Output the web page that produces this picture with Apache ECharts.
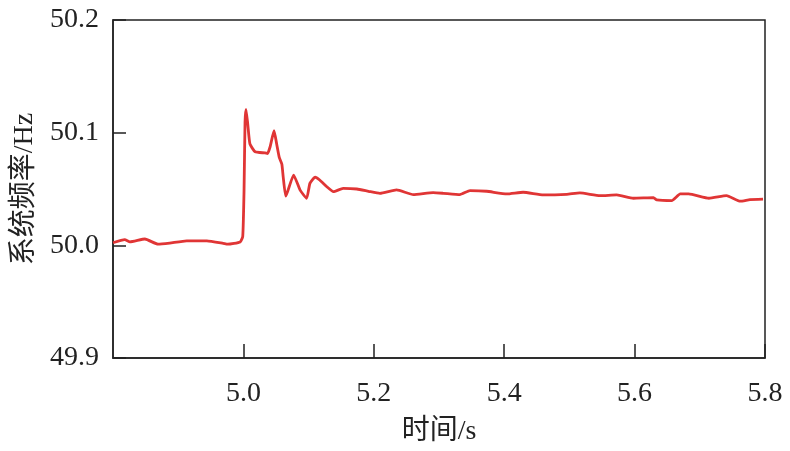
<!DOCTYPE html>
<html><head><meta charset="utf-8">
<script src="https://cdn.jsdelivr.net/npm/echarts@6/dist/echarts.min.js"></script>
<style>html,body{margin:0;padding:0;background:#fff}#c{width:790px;height:451px}</style>
</head><body><div id="c"></div>
<script>
const xTicks = [5.0, 5.2, 5.4, 5.6, 5.8];
const yTicks = [49.9, 50.0, 50.1, 50.2];
const time = [4.800,4.818,4.826,4.849,4.869,4.887,4.913,4.944,4.969,4.976,4.995,4.999,5.001,5.0025,5.004,5.0066,5.010,5.018,5.033,5.037,5.041,5.047,5.051,5.055,5.059,5.061,5.065,5.077,5.087,5.097,5.102,5.110,5.117,5.128,5.138,5.153,5.174,5.192,5.2095,5.235,5.2606,5.291,5.3066,5.332,5.3475,5.373,5.404,5.429,5.460,5.496,5.516,5.547,5.5725,5.598,5.629,5.634,5.657,5.670,5.683,5.714,5.741,5.762,5.777,5.797];
const freq = [50.0023,50.005,50.003,50.0056,50.001,50.002,50.004,50.004,50.0018,50.001,50.003,50.008,50.049,50.109,50.1207,50.108,50.090,50.083,50.082,50.0815,50.0875,50.1017,50.090,50.078,50.072,50.061,50.0436,50.0624,50.049,50.0417,50.055,50.0605,50.058,50.052,50.0476,50.0506,50.050,50.0480,50.0462,50.0492,50.045,50.0468,50.0462,50.045,50.0486,50.048,50.0456,50.0471,50.0447,50.0453,50.0465,50.0441,50.0447,50.0418,50.0423,50.0403,50.0397,50.0456,50.0456,50.0418,50.0441,50.0392,50.0406,50.041];
const data = time.map((t, i) => [t, freq[i]]);
const font = '"Liberation Serif", "Noto Sans CJK SC", serif';
const chart = echarts.init(document.getElementById('c'));
chart.setOption({
  animation: false,
  grid: { left: 113, top: 20, width: 652, height: 338, containLabel: false, outerBoundsMode: 'none',
    show: true, borderColor: '#222', borderWidth: 1.5, backgroundColor: 'transparent' },
  xAxis: {
    type: 'value', min: 4.8, max: 5.8, interval: 0.2,
    name: '时间/s', nameLocation: 'middle', nameGap: 60,
    nameTextStyle: { fontFamily: font, fontSize: 28, color: '#222' },
    axisLine: { lineStyle: { color: '#222', width: 1.5 } },
    axisTick: { inside: true, length: 14, lineStyle: { color: '#222', width: 1.5 } },
    splitLine: { show: false },
    axisLabel: { showMinLabel: false, margin: 22, fontFamily: font, fontSize: 28, color: '#222',
      formatter: v => xTicks.some(t => Math.abs(t - v) < 1e-6) ? v.toFixed(1) : '' }
  },
  yAxis: {
    type: 'value', min: 49.9, max: 50.2, interval: 0.1,
    name: '系统频率/Hz', nameLocation: 'middle', nameGap: 68,
    nameTextStyle: { fontFamily: font, fontSize: 28, color: '#222' },
    axisLine: { show: true, lineStyle: { color: '#222', width: 1.5 } },
    axisTick: { show: true, inside: true, length: 13, lineStyle: { color: '#222', width: 1.5 } },
    splitLine: { show: false },
    axisLabel: { margin: 14, fontFamily: font, fontSize: 28, color: '#222',
      formatter: v => yTicks.some(t => Math.abs(t - v) < 1e-6) ? v.toFixed(1) : '' }
  },
  series: [{
    type: 'line', data: data, showSymbol: false, smooth: 0.15,
    lineStyle: { color: '#e03535', width: 2.8 }
  }]
});
</script></body></html>
